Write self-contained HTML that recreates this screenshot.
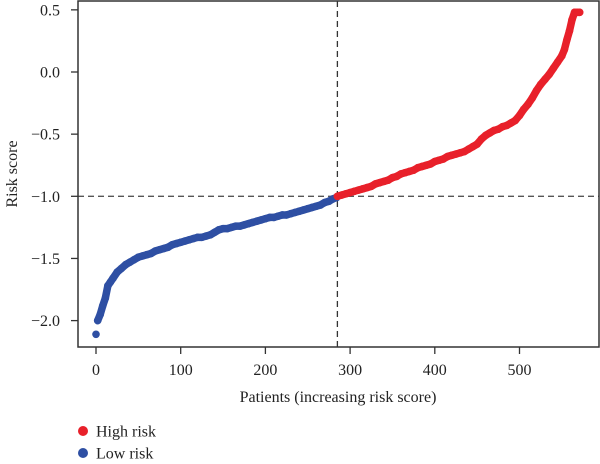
<!DOCTYPE html>
<html><head><meta charset="utf-8"><style>
body{margin:0;background:#fff;}
svg{display:block;font-family:"Liberation Serif",serif;}
</style></head><body>
<svg id="chart" width="600" height="464">
</svg>
<script>
const xTicks=[0,100,200,300,400,500];
const yTicks=[0.5,0.0,-0.5,-1.0,-1.5,-2.0];
const yTickLabels=["0.5","0.0","\u22120.5","\u22121.0","\u22121.5","\u22122.0"];
const cutoffPatient=285;
const cutoffScore=-1.0;
const lowPatients=[0,2,5,8,11,14,17,20,25,30,35,40,45,50,55,60,65,70,75,80,85,90,95,100,105,110,115,120,125,130,135,140,145,150,155,160,165,170,175,180,185,190,195,200,205,210,215,220,225,230,235,240,245,250,255,260,265,270,275,280,284];
const lowScores=[-2.11,-2.0,-1.95,-1.88,-1.82,-1.72,-1.69,-1.66,-1.61,-1.58,-1.55,-1.53,-1.51,-1.49,-1.48,-1.47,-1.46,-1.44,-1.43,-1.42,-1.41,-1.39,-1.38,-1.37,-1.36,-1.35,-1.34,-1.33,-1.33,-1.32,-1.31,-1.29,-1.27,-1.26,-1.26,-1.25,-1.24,-1.24,-1.23,-1.22,-1.21,-1.20,-1.19,-1.18,-1.17,-1.17,-1.16,-1.15,-1.15,-1.14,-1.13,-1.12,-1.11,-1.10,-1.09,-1.08,-1.07,-1.05,-1.04,-1.02,-1.01];
const highPatients=[285,290,295,300,305,310,315,320,325,330,335,340,345,350,355,360,365,370,375,380,385,390,395,400,405,410,415,420,425,430,435,440,445,450,455,460,465,470,475,480,485,490,495,500,505,510,515,520,525,530,535,540,545,550,553,556,559,562,565,568,571];
const highScores=[-1.0,-0.99,-0.98,-0.97,-0.96,-0.95,-0.94,-0.93,-0.92,-0.90,-0.89,-0.88,-0.87,-0.85,-0.84,-0.82,-0.81,-0.80,-0.79,-0.77,-0.76,-0.75,-0.74,-0.72,-0.71,-0.70,-0.68,-0.67,-0.66,-0.65,-0.64,-0.62,-0.60,-0.58,-0.54,-0.51,-0.49,-0.47,-0.46,-0.44,-0.43,-0.41,-0.39,-0.35,-0.30,-0.26,-0.21,-0.15,-0.10,-0.06,-0.02,0.03,0.08,0.13,0.18,0.26,0.33,0.42,0.48,0.48,0.48];

const NS="http://www.w3.org/2000/svg";
const svg=document.getElementById('chart');
const L=78,R=599,T=1,B=347;
function xs(p){return 96+p*0.847;}
function ys(v){return 72-v*124.3;}
function mk(tag,attrs,parent){const e=document.createElementNS(NS,tag);for(const k in attrs)e.setAttribute(k,attrs[k]);(parent||svg).appendChild(e);return e;}

let hl=mk('line',{x1:L,x2:R,y1:ys(cutoffScore),y2:ys(cutoffScore),stroke:'#555','stroke-width':1.3,'stroke-dasharray':'6,4'});


let vl=mk('line',{x1:xs(cutoffPatient),x2:xs(cutoffPatient),y1:T,y2:B,stroke:'#333','stroke-width':1.3,'stroke-dasharray':'6,4'});



function series(ps,vs,color,name,skipBand){
  const g=mk('g',{fill:color});
  
  
  const pts=ps.map((p,i)=>xs(p)+','+ys(vs[i]));
  const start=skipBand||0;
  const band=mk('polyline',{points:pts.slice(start).join(' '),fill:'none',stroke:color,'stroke-width':7.5,'stroke-linecap':'round','stroke-linejoin':'round'},g);
  
  
  ps.forEach((p,i)=>{
    const c=mk('circle',{cx:xs(p),cy:ys(vs[i]),r:3.8},g);
    
    
  });
}
series(lowPatients,lowScores,'#2e4fa3','low-risk',1);
series(highPatients,highScores,'#e8202a','high-risk',0);

let fr=mk('rect',{x:L,y:T,width:R-L,height:B-T,fill:'none',stroke:'#333','stroke-width':1.5});



xTicks.forEach(t=>{
  const x=xs(t);
  const tk=mk('line',{x1:x,x2:x,y1:B,y2:B+7,stroke:'#333','stroke-width':1.3});
  
  
  const tx=mk('text',{x:x,y:375,'text-anchor':'middle','font-size':16,fill:'#222'});
  tx.textContent=t;
  
  
});
yTicks.forEach((t,i)=>{
  const y=ys(t);
  const tk=mk('line',{x1:L-7,x2:L,y1:y,y2:y,stroke:'#333','stroke-width':1.3});
  
  
  const tx=mk('text',{x:60,y:y+5.5,'text-anchor':'end','font-size':16,fill:'#222'});
  tx.textContent=yTickLabels[i];
  
  
});
let xt=mk('text',{x:338,y:402,'text-anchor':'middle','font-size':16,fill:'#222'});
xt.textContent='Patients (increasing risk score)';


let yt=mk('text',{x:0,y:0,'text-anchor':'middle','font-size':16,fill:'#222',transform:'translate(17,174) rotate(-90)'});
yt.textContent='Risk score';



const legend=[['High risk','#e8202a',431],['Low risk','#2e4fa3',453]];
legend.forEach(l=>{
  const g=mk('g',{});
  
  
  mk('circle',{cx:83,cy:l[2],r:5,fill:l[1]},g);
  const tx=mk('text',{x:96,y:l[2]+5.5,'font-size':16,fill:'#222'},g);
  tx.textContent=l[0];
});
</script>
</body></html>
